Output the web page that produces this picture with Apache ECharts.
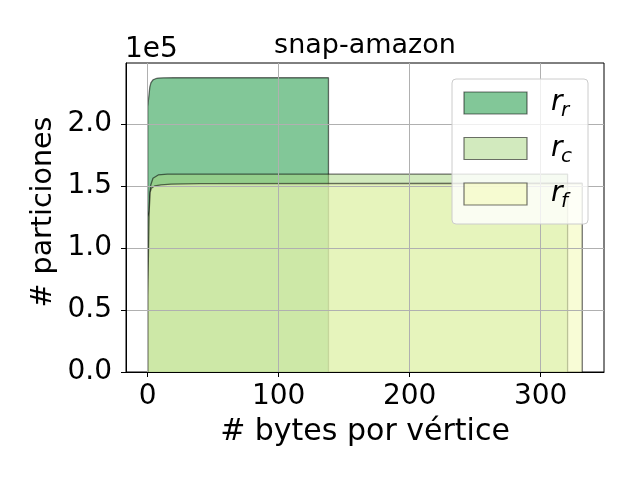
<!DOCTYPE html>
<html>
<head>
<meta charset="utf-8">
<script src="https://cdn.jsdelivr.net/npm/echarts@6/dist/echarts.min.js"></script>
<style>
html,body{margin:0;padding:0;background:#fff;}
#c{width:640px;height:480px;}
</style>
</head>
<body>
<div id="c"></div>
<script>
// ---- data (cumulative step histograms, # particiones vs # bytes por vértice) ----
const seriesNames = ['r_r', 'r_c', 'r_f'];
const legendMain = ['r', 'r', 'r'];
const legendSub = ['r', 'c', 'f'];
const rrX = [0, 0, 1.5, 1.6, 2.5, 4, 6, 8, 12, 20, 138, 138];
const rrY = [0, 214000, 214000, 230000, 233500, 235700, 236600, 237100, 237300, 237400, 237500, 0];
const rcX = [0, 0, 1.2, 1.5, 2.3, 4, 8, 15, 320.6, 320.6];
const rcY = [0, 125000, 130000, 142000, 150900, 156300, 159000, 159600, 159700, 0];
const rfX = [0, 0, 1.0, 1.1, 1.8, 2.75, 5.3, 10.2, 17.8, 40, 331.8, 331.8];
const rfY = [0, 60600, 60600, 130000, 145000, 148300, 150100, 150900, 151500, 152000, 152300, 0];
const xTicks = [0, 100, 200, 300];
const yTicks = [0, 50000, 100000, 150000, 200000];
const titleText = 'snap-amazon';
const xName = '# bytes por vértice';
const yName = '# particiones';
const offsetText = '1e5';

// ---- styles ----
const FONT = 'DejaVu Sans';
const fills = ['rgba(5,143,49,0.5)', 'rgba(165,214,125,0.5)', 'rgba(243,250,187,0.6)'];
const edges = ['rgba(0,0,0,0.55)', 'rgba(0,0,0,0.55)', 'rgba(0,0,0,0.55)'];
const zs = [1, 1.3, 1.6];

function pairs(xs, ys) { return xs.map((x, i) => [x, ys[i]]); }
const allData = [pairs(rrX, rrY), pairs(rcX, rcY), pairs(rfX, rfY)];

// legend (drawn as graphic elements: frame, patches, mathtext-like labels)
const LG = {x: 452, y: 79, w: 136, h: 145, patchX: 464, patchY0: 92, patchStep: 45.5, patchW: 63, patchH: 22, textX: 551, subX: 561};
const legendGraphics = [{
  type: 'rect', z: 4, shape: {x: LG.x, y: LG.y, width: LG.w, height: LG.h, r: 4},
  style: {fill: 'rgba(255,255,255,0.8)', stroke: '#cccccc', lineWidth: 1}
}];
seriesNames.forEach((n, i) => {
  const py = LG.patchY0 + i * LG.patchStep;
  const cy = py + LG.patchH / 2;
  legendGraphics.push({
    type: 'rect', z: 5, shape: {x: LG.patchX, y: py, width: LG.patchW, height: LG.patchH},
    style: {fill: fills[i], stroke: edges[i], lineWidth: 1.2}
  });
  legendGraphics.push({
    type: 'text', z: 6,
    style: {text: legendMain[i], x: LG.textX, y: cy, align: 'left', verticalAlign: 'middle',
      fontFamily: FONT, fontStyle: 'italic', fontSize: 28, fill: '#000'}
  });
  legendGraphics.push({
    type: 'text', z: 6,
    style: {text: legendSub[i], x: LG.subX, y: cy + 8, align: 'left', verticalAlign: 'middle',
      fontFamily: FONT, fontStyle: 'italic', fontSize: 20, fill: '#000'}
  });
});

const chart = echarts.init(document.getElementById('c'), null, {renderer: 'canvas'});
const option = {
  animation: false,
  backgroundColor: '#ffffff',
  grid: {left: 126, top: 63, right: 36, bottom: 108, show: true, borderColor: '#000', borderWidth: 1, backgroundColor: 'transparent'},
  xAxis: {
    type: 'value', min: -16.6, max: 348.4, z: 3,
    axisLine: {show: true, onZero: false, lineStyle: {color: '#000', width: 1}},
    axisTick: {show: true, length: 5, customValues: xTicks, lineStyle: {color: '#000', width: 1}},
    axisLabel: {customValues: xTicks, margin: 11, fontFamily: FONT, fontSize: 28, color: '#000'},
    splitLine: {show: true, lineStyle: {color: '#b0b0b0', width: 1}}
  },
  yAxis: {
    type: 'value', min: 0, max: 249300, interval: 50000, z: 3,
    axisLine: {show: true, onZero: false, lineStyle: {color: '#000', width: 1}},
    axisTick: {show: true, length: 5, customValues: yTicks, lineStyle: {color: '#000', width: 1}},
    axisLabel: {customValues: yTicks, margin: 14, fontFamily: FONT, fontSize: 28, color: '#000',
      formatter: v => (v / 1e5).toFixed(1)},
    splitLine: {show: true, lineStyle: {color: '#b0b0b0', width: 1}}
  },
  series: seriesNames.map((n, i) => ({
    name: n, type: 'line', data: allData[i], showSymbol: false, symbol: 'none', z: zs[i],
    lineStyle: {color: edges[i], width: 1.3},
    itemStyle: {color: fills[i]},
    areaStyle: {color: fills[i], opacity: 1}
  })),
  graphic: [
    {type: 'text', z: 10, style: {text: titleText, x: 365, y: 46, align: 'center', verticalAlign: 'middle', fontFamily: FONT, fontSize: 27, fill: '#000'}},
    {type: 'text', z: 10, style: {text: offsetText, x: 125, y: 50, align: 'left', verticalAlign: 'middle', fontFamily: FONT, fontSize: 28, fill: '#000'}},
    {type: 'text', z: 10, style: {text: xName, x: 365, y: 432, align: 'center', verticalAlign: 'middle', fontFamily: FONT, fontSize: 30, fill: '#000'}},
    {type: 'text', z: 10, x: 44, y: 212, rotation: Math.PI / 2, style: {text: yName, x: 0, y: 0, align: 'center', verticalAlign: 'middle', fontFamily: FONT, fontSize: 28.5, fill: '#000'}}
  ].concat(legendGraphics)
};
chart.setOption(option);
</script>
</body>
</html>
